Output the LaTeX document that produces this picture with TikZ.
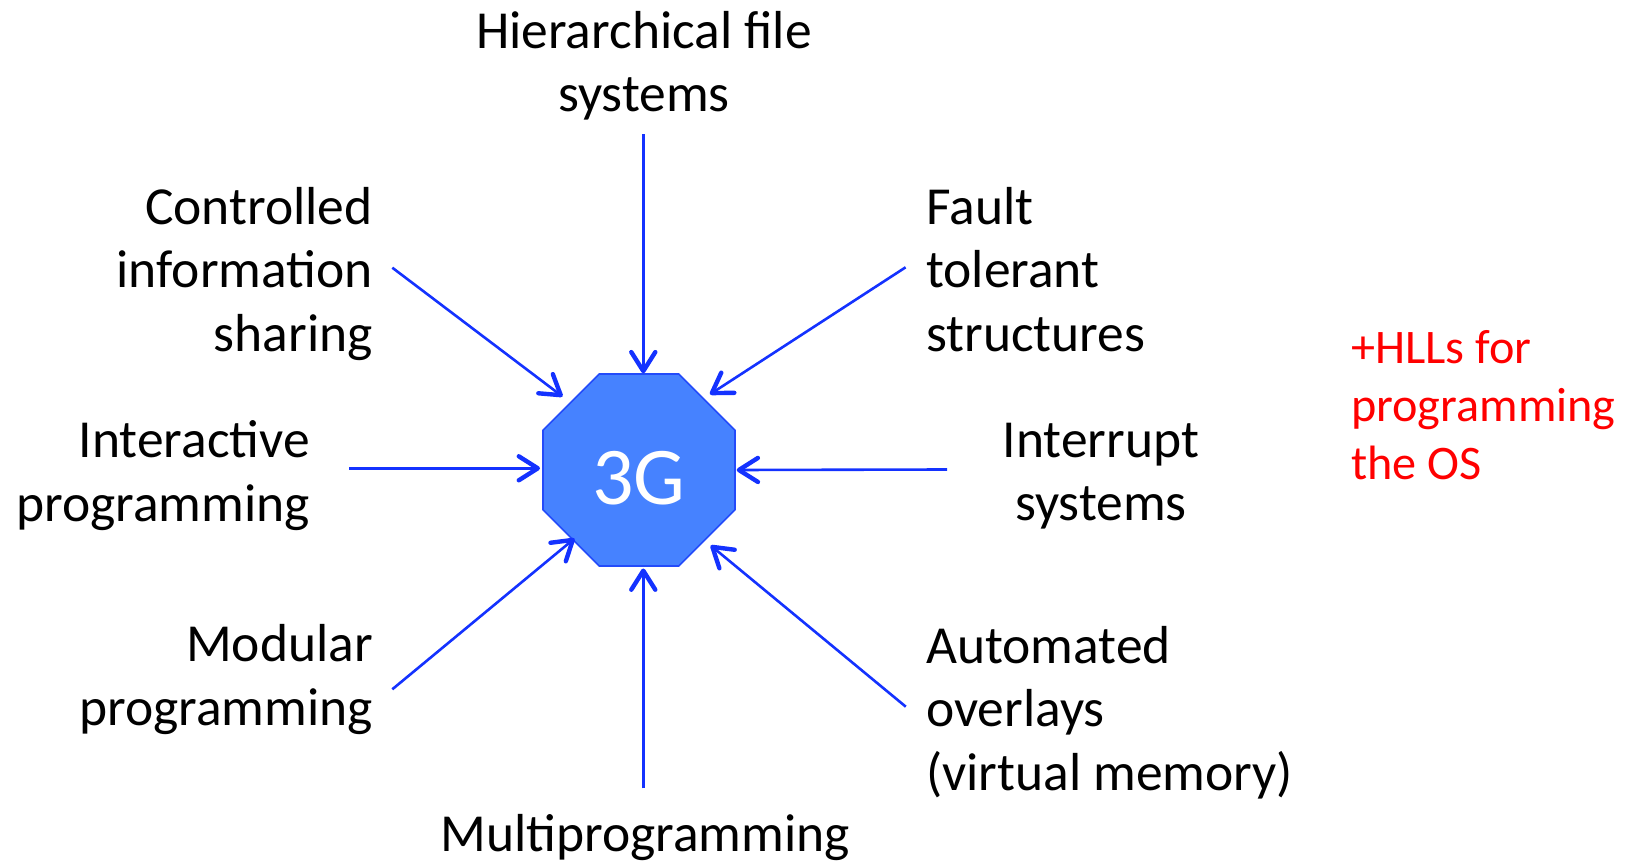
\documentclass[tikz,border=0pt]{standalone}
\usepackage{fontspec}
\setmainfont{Carlito}
\usetikzlibrary{arrows.meta,shapes.geometric}

\definecolor{corefill}{RGB}{70,130,255}
\definecolor{coreline}{RGB}{35,75,250}
\definecolor{linkblue}{RGB}{20,50,255}
\definecolor{notered}{RGB}{255,0,0}

\begin{document}
\begin{tikzpicture}[x=1pt,y=-1pt,
  label/.style={font=\fontsize{53.5}{63.5}\selectfont, inner sep=0pt, text=black},
  note/.style={font=\fontsize{48.2}{58}\selectfont, inner sep=0pt, text=notered, align=left},
  core/.style={regular polygon, regular polygon sides=8, minimum size=207.8pt,
    inner sep=0pt, fill=corefill, draw=coreline, line width=1.6pt},
  corelabel/.style={font=\fontsize{82}{92}\selectfont, inner sep=0pt, text=white},
  link/.style={draw=linkblue, line width=2.6pt,
    -{Straight Barb[length=19pt,width=24pt,line width=4.4pt,round]}}
]
\useasboundingbox (0,0) rectangle (1631,861);

% central octagon
\node[core] (core) at (639,470) {};
\node[corelabel, anchor=base] (coretext) at (639,504) {3G};

% surrounding labels (anchored at the baseline of their last line)
\node[label, align=center, anchor=base] (hfs) at (644,112) {Hierarchical file\\systems};
\node[label, align=right, anchor=base east] (cis) at (373,351) {Controlled\\information\\sharing};
\node[label, align=left, anchor=base west] (fts) at (926,351) {Fault\\tolerant\\structures};
\node[label, align=right, anchor=base east] (ip) at (310,521) {Interactive\\programming};
\node[label, align=center, anchor=base] (is) at (1101,520.7) {Interrupt\\systems};
\node[label, align=right, anchor=base east] (mp) at (373,725) {Modular\\programming};
\node[label, align=left, anchor=base west] (ao) at (926,790) {Automated\\overlays\\(virtual memory)};
\node[label, align=center, anchor=base] (multi) at (645,851.5) {Multiprogramming};
\node[note, anchor=base west] (hll) at (1351,479.3) {+HLLs for\\programming\\the OS};

% connector end points
\coordinate (hfsA) at (643.3,134.3);   \coordinate (hfsB) at (643.3,373.3);
\coordinate (cisA) at (392.3,267.7);   \coordinate (cisB) at (562.5,396.5);
\coordinate (ftsA) at (905.6,267.3);   \coordinate (ftsB) at (710,394.3);
\coordinate (ipA)  at (349.4,468.3);   \coordinate (ipB)  at (540,468.3);
\coordinate (isA)  at (947,469.5);     \coordinate (isB)  at (736.7,470);
\coordinate (mpA)  at (392.3,689.3);   \coordinate (mpB)  at (574.5,538.5);
\coordinate (aoA)  at (905.8,706.7);   \coordinate (aoB)  at (710.7,545.5);
\coordinate (multiA) at (643.3,788.3); \coordinate (multiB) at (643.3,568.5);

% arrows into the octagon
\draw[link] (hfsA) -- (hfsB);
\draw[link] (cisA) -- (cisB);
\draw[link] (ftsA) -- (ftsB);
\draw[link] (ipA) -- (ipB);
\draw[link] (isA) -- (isB);
\draw[link] (mpA) -- (mpB);
\draw[link] (aoA) -- (aoB);
\draw[link] (multiA) -- (multiB);
\end{tikzpicture}
\end{document}
